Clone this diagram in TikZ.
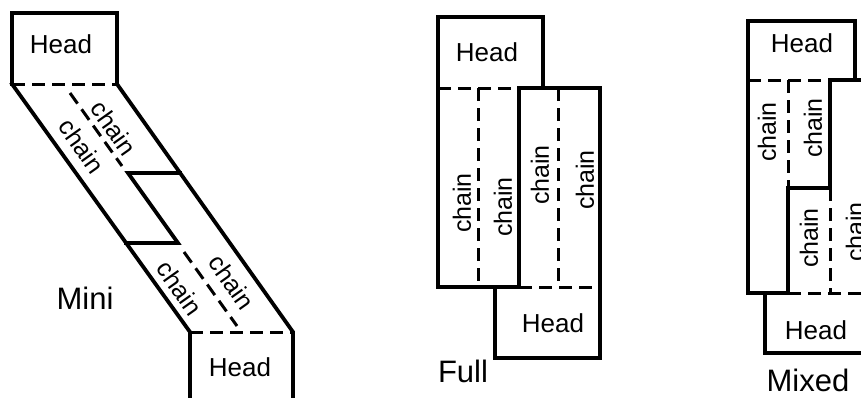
\documentclass[tikz,border=0pt]{standalone}
\usepackage{fontspec}
\setmainfont{Liberation Sans}
\begin{document}
\begin{tikzpicture}[x=1pt,y=-1pt,
  outl/.style={line width=3.8pt, line join=miter, line cap=rect},
  dline/.style={line width=3pt, dash pattern=on 13pt off 7pt},
  headtxt/.style={inner sep=0pt, font=\fontsize{26}{30}\selectfont},
  chaintxt/.style={inner sep=0pt, font=\fontsize{25}{29}\selectfont},
  lbl/.style={inner sep=0pt, font=\fontsize{31}{36}\selectfont}]
\useasboundingbox (0,0) rectangle (861,397);
\fill[white] (0,0) rectangle (861,397);
\clip (0,0) rectangle (861,397);

% ---------- Mini ----------
\draw[outl] (12,84) -- (12,13) -- (117,13) -- (117,84) -- (293,332) -- (293,405);
\draw[outl] (12,84) -- (190,332) -- (190,405);
\draw[outl] (180,173) -- (128,173) -- (178,243) -- (126,243);
\draw[dline] (12,84) -- (117,84);
\draw[dline] (190,332) -- (293,332);
\draw[dline] (70,93) -- (122,166);
\draw[dline] (184,252) -- (237,326);
\node[headtxt] (mh1) at (61,44) {Head};
\node[headtxt] (mh2) at (240,367) {Head};
\node[chaintxt, rotate=-54.6] (mc1) at (114,128) {chain};
\node[chaintxt, rotate=-54.6] (mc2) at (82,146) {chain};
\node[chaintxt, rotate=-54.6] (mc3) at (180,288) {chain};
\node[chaintxt, rotate=-54.6] (mc4) at (232,282) {chain};
\node[lbl] (mini) at (85,298) {Mini};

% ---------- Full ----------
\draw[outl] (519,88) -- (519,287) -- (438,287) -- (438,17) -- (543,17) -- (543,88);
\draw[outl] (519,88) -- (600,88) -- (600,358) -- (495,358) -- (495,287);
\draw[dline] (438,88) -- (519,88);
\draw[dline] (519,287) -- (600,287);
\draw[dline] (478,88) -- (478,287);
\draw[dline] (558,88) -- (558,287);
\node[headtxt] (fh1) at (487,52) {Head};
\node[headtxt] (fh2) at (553,323) {Head};
\node[chaintxt, rotate=90] (fc1) at (462,203) {chain};
\node[chaintxt, rotate=90] (fc2) at (503,207) {chain};
\node[chaintxt, rotate=90] (fc3) at (540,175) {chain};
\node[chaintxt, rotate=90] (fc4) at (585,180) {chain};
\node[lbl] (full) at (463,371) {Full};

% ---------- Mixed ----------
\draw[outl] (788,293) -- (748,293) -- (748,21) -- (855,21) -- (855,80);
\draw[outl] (870,80) -- (830,80) -- (830,188) -- (788,188) -- (788,293);
\draw[outl] (765,293) -- (765,353) -- (870,353);
\draw[dline] (748,80) -- (830,80);
\draw[dline] (788,80) -- (788,188);
\draw[dline] (830,188) -- (830,293);
\draw[dline] (788,293) -- (870,293);
\node[headtxt] (xh1) at (802,43) {Head};
\node[headtxt] (xh2) at (816,330) {Head};
\node[chaintxt, rotate=90] (xc1) at (767,132) {chain};
\node[chaintxt, rotate=90] (xc2) at (813,128) {chain};
\node[chaintxt, rotate=90] (xc3) at (809,238) {chain};
\node[chaintxt, rotate=90] (xc4) at (855,232) {chain};
\node[lbl] (mixed) at (808,380) {Mixed};
\end{tikzpicture}
\end{document}
